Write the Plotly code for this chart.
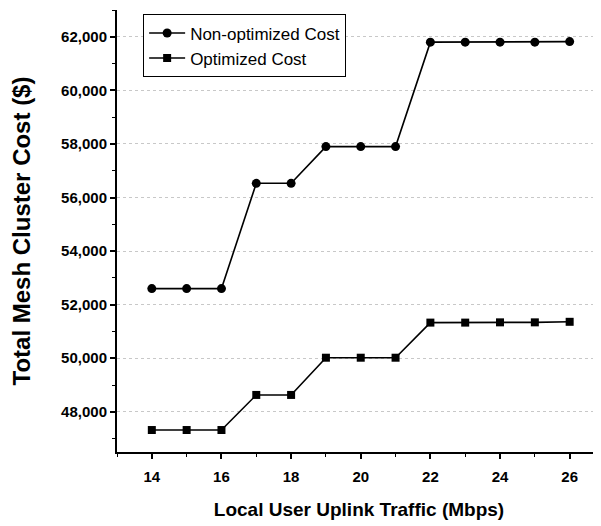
import plotly.graph_objects as go

traffic = [14, 15, 16, 17, 18, 19, 20, 21, 22, 23, 24, 25, 26]
non_optimized = [52600, 52600, 52600, 56530, 56530, 57900, 57900, 57900, 61800, 61800, 61800, 61800, 61820]
optimized = [47320, 47320, 47320, 48630, 48630, 50020, 50020, 50020, 51330, 51330, 51340, 51340, 51360]
y_ticks = [48000, 50000, 52000, 54000, 56000, 58000, 60000, 62000]
y_labels = ["48,000", "50,000", "52,000", "54,000", "56,000", "58,000", "60,000", "62,000"]
x_ticks = [14, 16, 18, 20, 22, 24, 26]

fig = go.Figure()
fig.add_trace(go.Scatter(x=traffic, y=non_optimized, mode="lines+markers",
                         name="Non-optimized Cost",
                         line=dict(color="black", width=1.6),
                         marker=dict(symbol="circle", size=9, color="black")))
fig.add_trace(go.Scatter(x=traffic, y=optimized, mode="lines+markers",
                         name="Optimized Cost",
                         line=dict(color="black", width=1.6),
                         marker=dict(symbol="square", size=8, color="black")))

FONT = "Liberation Sans, Arial, sans-serif"
tickfont = dict(family=FONT, size=15, color="black", weight="bold")

fig.update_layout(
    width=593, height=518,
    margin=dict(l=109, r=0, t=2, b=74),
    plot_bgcolor="white", paper_bgcolor="white",
    showlegend=True,
    legend=dict(x=0.054, y=0.99, xanchor="left", yanchor="top",
                bordercolor="black", borderwidth=1, bgcolor="white",
                font=dict(family=FONT, size=17, color="black"),
                tracegroupgap=0, itemwidth=36),
    xaxis=dict(range=[13, 26.9], tickvals=x_ticks, ticks="outside", ticklen=5,
               tickwidth=1.5, tickcolor="black", showline=True, linecolor="black",
               linewidth=2, showgrid=False, zeroline=False, tickfont=tickfont,
               ticklabelstandoff=5,
               minor=dict(dtick=1, tick0=13, ticks="outside", ticklen=3, tickcolor="black", tickwidth=1.2),
               title=dict(text="Local User Uplink Traffic (Mbps)",
                          font=dict(family=FONT, size=19, color="black", weight="bold"), standoff=19)),
    yaxis=dict(range=[46500, 63000], tickvals=y_ticks, ticktext=y_labels, ticks="outside",
               ticklen=5, tickwidth=1.5, tickcolor="black", showline=True, linecolor="black",
               linewidth=2, showgrid=True, gridcolor="#c8c8c8", griddash="dot", gridwidth=1,
               zeroline=False, tickfont=tickfont,
               minor=dict(dtick=1000, tick0=47000, ticks="outside", ticklen=3, tickcolor="black", tickwidth=1.2),
               title=dict(text="Total Mesh Cluster Cost ($)",
                          font=dict(family=FONT, size=24, color="black", weight="bold"), standoff=26)),
)

fig.write_html("out.html")
